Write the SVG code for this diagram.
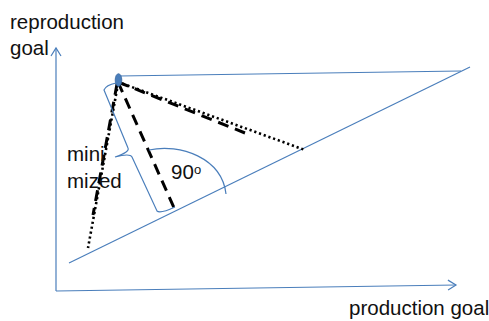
<svg xmlns="http://www.w3.org/2000/svg" width="489" height="321" viewBox="0 0 489 321">
<style>
.t{font-family:"Liberation Sans",Arial,sans-serif;font-size:20.5px;fill:#111}
.b{fill:none;stroke:#4a7ebb;stroke-width:1.2}
.dot{fill:none;stroke:#000;stroke-width:2.6;stroke-dasharray:2.2 2.8}
.dash{fill:none;stroke:#000;stroke-width:3;stroke-dasharray:11 7}
</style>
<defs>
<marker id="ah" markerWidth="12" markerHeight="12" refX="10" refY="6" orient="auto" markerUnits="userSpaceOnUse">
<path d="M2,1 L10,6 L2,11" fill="none" stroke="#4a7ebb" stroke-width="1.2"/>
</marker>
</defs>
<rect width="489" height="321" fill="#fff"/>
<g id="axes">
<line class="b" x1="56" y1="291" x2="56" y2="48" marker-end="url(#ah)"/>
<line class="b" x1="56" y1="291" x2="456" y2="285" marker-end="url(#ah)"/>
</g>
<g id="triangle">
<line class="b" x1="119" y1="76" x2="461" y2="71"/>
<line class="b" x1="69" y1="263" x2="470" y2="67"/>
</g>
<g id="connectors">
<line class="dot" x1="118" y1="82" x2="305" y2="150"/>
<line class="dash" x1="118" y1="82" x2="245" y2="133"/>
<line class="dash" x1="118" y1="82" x2="175" y2="210"/>
<line class="dot" x1="118" y1="84" x2="88" y2="248"/>
<line class="dash" x1="117" y1="84" x2="93" y2="215" stroke-dasharray="5 8"/>
</g>
<g id="brace">
<path class="b" d="M116,83 Q106,85 104,90 L128,148 Q130,152 115,157 Q130,153 132,157 L157,211 Q160,214 175,207"/>
</g>
<g id="angle">
<path class="b" d="M149,150 C180,143 222,158 226,194"/>
<text class="t" x="171" y="179">90</text>
<text class="t" x="194" y="174" style="font-size:13px">o</text>
</g>
<g id="point">
<ellipse cx="118.5" cy="80" rx="3.3" ry="6.3" fill="#4a7ebb" stroke="#3a68a0" stroke-width="0.8"/>
</g>
<g id="labels">
<text class="t" x="10" y="29">reproduction</text>
<text class="t" x="10" y="55">goal</text>
<text class="t" x="349" y="315">production goal</text>
<text class="t" x="67" y="161">mini</text>
<text class="t" x="67" y="188">mized</text>
</g>
</svg>
